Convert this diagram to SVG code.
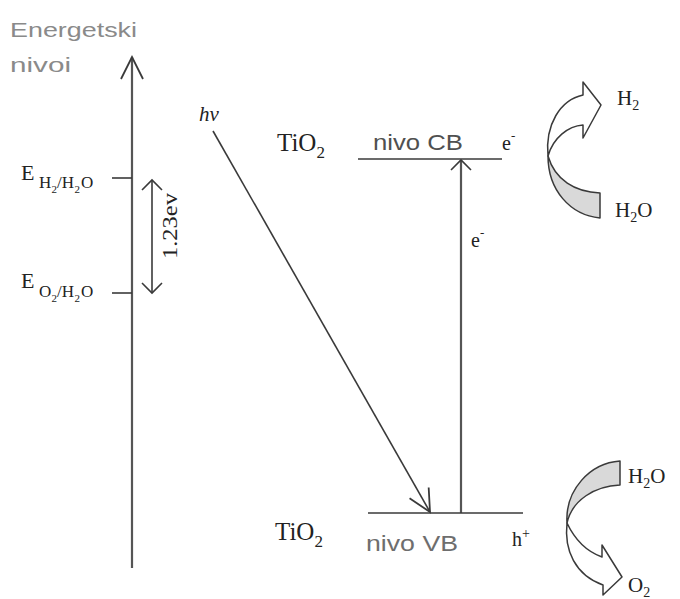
<svg xmlns="http://www.w3.org/2000/svg" width="680" height="599" viewBox="0 0 680 599">
<style>
.ln{stroke:#3a3a3a;stroke-width:1.6;fill:none}
.ax{stroke:#555;stroke-width:2.2;fill:none}
.sf{font-family:"Liberation Serif","Times New Roman",serif;fill:#222}
.ss{font-family:"Liberation Sans",Arial,sans-serif}
.rib{stroke:#3a3a3a;stroke-width:1.5;stroke-linejoin:round}
</style>
<defs>
<marker id="arrLong" markerUnits="userSpaceOnUse" viewBox="0 0 22 22" refX="22" refY="11" markerWidth="22" markerHeight="22" orient="auto" overflow="visible">
<path d="M0,0 L22,11 L0,22" fill="none" stroke="#3a3a3a" stroke-width="1.8"/>
</marker>
<marker id="arrWide" markerUnits="userSpaceOnUse" viewBox="0 0 10 20" refX="10" refY="10" markerWidth="10" markerHeight="20" orient="auto-start-reverse" overflow="visible">
<path d="M0,0 L10,10 L0,20" fill="none" stroke="#3a3a3a" stroke-width="1.6"/>
</marker>
</defs>
<rect width="680" height="599" fill="#fff"/>

<g id="axis-label">
<text class="ss" x="10" y="37" font-size="21" fill="#8a8a8a" textLength="127" lengthAdjust="spacingAndGlyphs">Energetski</text>
<text class="ss" x="10" y="72" font-size="21" fill="#8a8a8a" textLength="61" lengthAdjust="spacingAndGlyphs">nivoi</text>
</g>

<g id="connectors">
<line class="ax" x1="132" y1="568" x2="132" y2="57" marker-end="url(#arrLong)"/>
<line class="ln" x1="112" y1="178" x2="132" y2="178"/>
<line class="ln" x1="112" y1="293" x2="132" y2="293"/>
<line class="ln" x1="152" y1="180" x2="152" y2="293" marker-start="url(#arrWide)" marker-end="url(#arrWide)"/>
<line class="ln" x1="213" y1="131" x2="430" y2="512" marker-end="url(#arrLong)"/>
<line class="ax" x1="461" y1="513" x2="461" y2="160" marker-end="url(#arrWide)"/>
</g>

<g id="E-H2-H2O">
<text class="sf" y="180" font-size="22"><tspan x="21">E</tspan><tspan x="39" y="188" font-size="17">H</tspan><tspan x="51.5" y="193" font-size="11">2</tspan><tspan x="57" y="188" font-size="17">/H</tspan><tspan x="74.5" y="193" font-size="11">2</tspan><tspan x="81" y="188" font-size="17">O</tspan></text>
</g>

<g id="E-O2-H2O">
<text class="sf" y="288" font-size="22"><tspan x="21">E</tspan><tspan x="39" y="297" font-size="17">O</tspan><tspan x="51.5" y="302" font-size="11">2</tspan><tspan x="57" y="297" font-size="17">/H</tspan><tspan x="74.5" y="302" font-size="11">2</tspan><tspan x="81" y="297" font-size="17">O</tspan></text>
</g>

<g id="gap-label">
<text class="sf" font-size="20" text-anchor="middle" transform="translate(177,226) rotate(-90)" textLength="66" lengthAdjust="spacingAndGlyphs">1.23ev</text>
</g>

<g id="hv">
<text class="sf" x="199" y="121" font-size="21" font-style="italic">hv</text>
</g>

<g id="CB-level">
<line class="ln" x1="358" y1="159" x2="502" y2="159"/>
<text class="sf" x="277" y="151" font-size="25">TiO<tspan font-size="17" dy="7">2</tspan></text>
<text class="ss" x="373" y="150" font-size="22" fill="#505050" textLength="90" lengthAdjust="spacingAndGlyphs">nivo CB</text>
<text class="sf" x="502" y="150" font-size="20">e<tspan font-size="13" dy="-10">-</tspan></text>
</g>

<g id="electron-label">
<text class="sf" x="471" y="247" font-size="20">e<tspan font-size="13" dy="-10">-</tspan></text>
</g>

<g id="VB-level">
<line class="ln" x1="368" y1="513" x2="523" y2="513"/>
<text class="sf" x="275" y="540" font-size="25">TiO<tspan font-size="17" dy="7">2</tspan></text>
<text class="ss" x="366" y="551" font-size="22" fill="#6e6e6e" textLength="92" lengthAdjust="spacingAndGlyphs">nivo VB</text>
<text class="sf" x="512" y="546" font-size="20">h<tspan font-size="14" dy="-8">+</tspan></text>
</g>

<g id="reduction">
<path class="rib" fill="#d9d9d9" d="M548,156 C548,190 570,215 600,218 L600,193 C575,192 555,180 548,156 Z"/>
<path class="rib" fill="#fff" d="M548,156 C545,125 560,100 583,95 L583,82 L601,105 L583,138 L583,125 C568,126 553,138 548,156 Z"/>
<text class="sf" x="617" y="105" font-size="21">H<tspan font-size="14" dy="5">2</tspan></text>
<text class="sf" x="615" y="217" font-size="21">H<tspan font-size="14" dy="5">2</tspan><tspan dy="-5">O</tspan></text>
</g>

<g id="oxidation">
<path class="rib" fill="#d9d9d9" d="M567,523 C565,490 590,463 620,461 L620,485 C595,486 572,500 567,523 Z"/>
<path class="rib" fill="#fff" d="M567,523 C575,540 588,552 602,557 L602,545 L622,577 L603,595 L603,585 C575,575 564,550 567,523 Z"/>
<text class="sf" x="628" y="483" font-size="21">H<tspan font-size="14" dy="5">2</tspan><tspan dy="-5">O</tspan></text>
<text class="sf" x="628" y="592" font-size="21">O<tspan font-size="14" dy="5">2</tspan></text>
</g>
</svg>
